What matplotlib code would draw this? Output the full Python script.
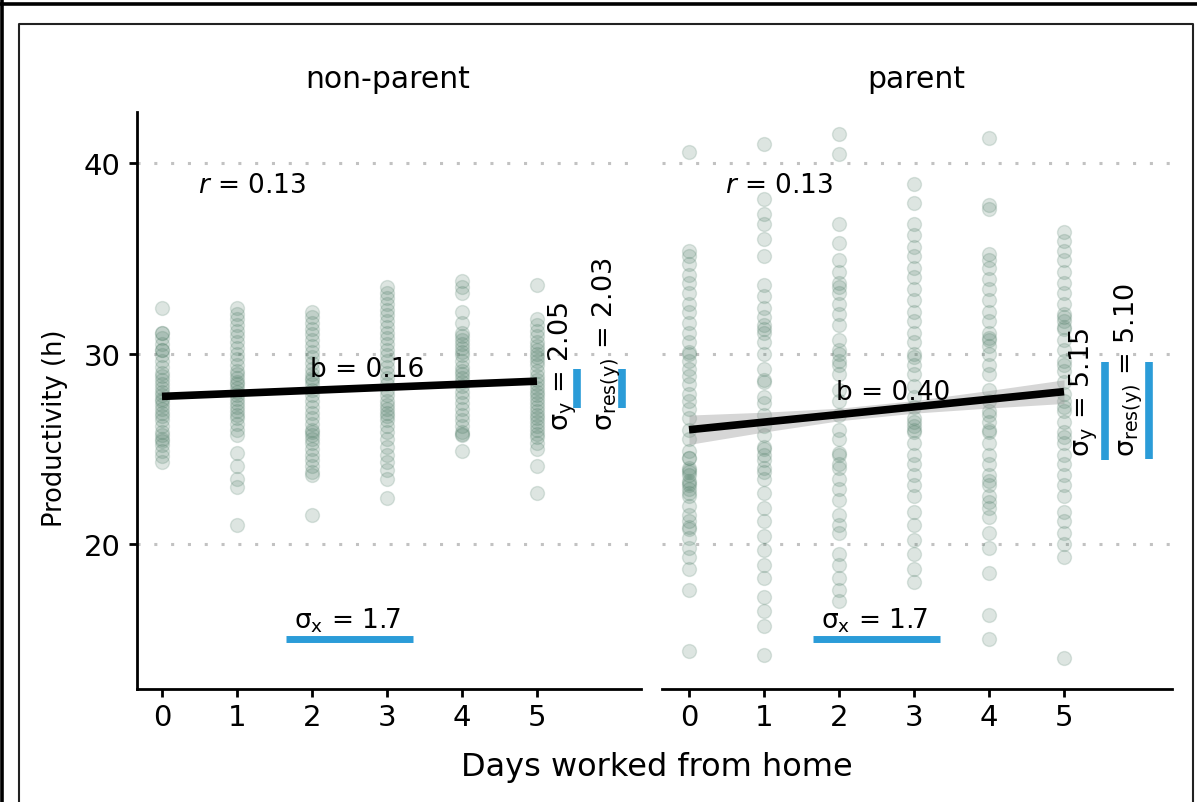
import numpy as np
import matplotlib
matplotlib.use("Agg")
import matplotlib.pyplot as plt
from matplotlib.lines import Line2D

plt.rcParams['font.family'] = ['DejaVu Sans']
plt.rcParams['mathtext.fontset'] = 'dejavusans'
plt.rcParams['mathtext.default'] = 'regular'

# ---------------- data ----------------
panels = ["non-parent", "parent"]
days = [0, 1, 2, 3, 4, 5]

nonparent_d0 = [32.4, 31.1, 31.1, 30.8, 30.5, 30.2, 30.2, 29.9, 29.6, 29.3, 29.0, 28.8, 28.6, 28.4,
                28.2, 28.0, 27.8, 27.6, 27.5, 27.3, 27.1, 26.9, 26.7, 26.5, 26.2, 25.9, 25.7, 25.5,
                25.4, 25.2, 24.9, 24.6, 24.3]
nonparent_d1 = [32.4, 32.1, 31.8, 31.5, 31.2, 30.9, 30.6, 30.3, 30.0, 29.7, 29.4, 29.1, 28.9, 28.7,
                28.5, 28.4, 28.2, 28.0, 27.8, 27.6, 27.4, 27.2, 27.0, 26.8, 26.6, 26.3, 26.0, 25.7,
                24.8, 24.1, 23.4, 23.0, 21.0]
nonparent_d2 = [32.2, 31.9, 31.6, 31.3, 31.0, 30.7, 30.4, 30.1, 29.8, 29.5, 29.2, 28.9, 28.7, 28.6,
                28.4, 28.1, 27.8, 27.5, 27.2, 26.9, 26.6, 26.3, 26.0, 25.9, 25.7, 25.5, 25.3, 25.0,
                24.7, 24.4, 24.1, 23.8, 23.6, 21.5]
nonparent_d3 = [33.5, 33.2, 32.9, 32.6, 32.3, 32.0, 31.7, 31.4, 31.1, 30.8, 30.5, 30.2, 29.9, 29.6,
                29.3, 29.0, 28.7, 28.4, 28.1, 27.8, 27.5, 27.3, 27.1, 26.9, 26.7, 26.5, 26.2, 25.9,
                25.5, 25.1, 24.7, 24.3, 23.9, 23.4, 22.4]
nonparent_d4 = [33.8, 33.5, 33.2, 32.2, 31.6, 31.1, 30.9, 30.7, 30.5, 30.3, 30.1, 29.9, 29.6, 29.3,
                29.1, 28.9, 28.7, 28.5, 28.3, 28.0, 27.7, 27.4, 27.1, 26.8, 26.5, 26.2, 25.9, 25.8,
                25.7, 24.9]
nonparent_d5 = [33.6, 31.8, 31.5, 31.2, 30.9, 30.6, 30.4, 30.2, 30.0, 29.8, 29.6, 29.4, 29.1, 28.8,
                28.6, 28.4, 28.2, 28.0, 27.8, 27.6, 27.4, 27.2, 27.0, 26.8, 26.6, 26.4, 26.2, 26.0,
                25.8, 25.6, 25.3, 25.0, 24.1, 22.7]

parent_d0 = [40.6, 35.4, 35.1, 34.7, 34.1, 33.7, 33.2, 32.6, 32.2, 31.6, 31.1, 30.6, 30.1, 30.0,
             29.6, 29.2, 28.8, 28.4, 27.9, 27.5, 27.1, 26.6, 26.0, 25.5, 24.9, 24.5, 24.5, 24.0,
             23.9, 23.8, 23.6, 23.3, 23.2, 23.1, 22.9, 22.7, 22.5, 22.0, 21.5, 21.2, 20.9, 20.8,
             20.3, 19.8, 19.3, 18.7, 17.6, 14.4]
parent_d1 = [41.0, 38.1, 37.3, 36.8, 36.0, 35.1, 33.6, 33.0, 32.4, 31.9, 31.5, 31.3, 31.1, 30.6,
             30.0, 29.2, 28.6, 28.5, 27.7, 27.4, 26.8, 26.2, 25.7, 25.1, 25.0, 24.7, 24.4, 24.0,
             23.8, 23.4, 22.7, 21.9, 21.2, 20.4, 19.7, 18.9, 18.2, 17.2, 16.5, 15.7, 14.2]
parent_d2 = [41.5, 40.5, 36.8, 35.8, 34.9, 34.3, 33.7, 33.5, 33.2, 32.6, 32.1, 31.5, 30.7, 30.2,
             30.0, 29.6, 29.4, 28.9, 28.1, 27.5, 26.8, 26.0, 25.5, 24.8, 24.7, 24.2, 24.0, 23.4,
             22.9, 22.3, 21.5, 21.0, 20.6, 19.5, 18.9, 18.2, 17.6, 17.0]
parent_d3 = [38.9, 37.9, 36.8, 36.2, 35.6, 35.1, 34.5, 34.0, 33.4, 32.8, 32.2, 31.7, 31.1, 30.6,
             30.0, 29.8, 29.4, 28.9, 28.3, 27.7, 27.2, 26.6, 26.4, 26.2, 26.0, 25.9, 25.3, 24.7,
             24.2, 23.6, 23.1, 22.5, 21.7, 21.0, 20.2, 19.5, 18.7, 18.0]
parent_d4 = [41.3, 37.8, 37.6, 35.2, 34.9, 34.5, 33.9, 33.4, 32.8, 32.2, 31.7, 31.1, 30.8, 30.7,
             30.4, 30.0, 29.4, 28.9, 28.1, 27.5, 27.0, 26.8, 26.4, 26.0, 25.9, 25.3, 24.7, 24.2,
             23.6, 23.3, 23.1, 22.5, 22.2, 21.9, 21.4, 20.6, 19.8, 18.5, 16.3, 15.0]
parent_d5 = [36.4, 35.9, 35.4, 34.9, 34.3, 33.7, 33.2, 32.6, 32.1, 31.9, 31.7, 31.4, 31.3, 30.7,
             30.2, 29.6, 29.4, 29.1, 28.5, 27.9, 27.5, 27.2, 27.0, 26.4, 25.9, 25.6, 25.3, 24.7,
             24.2, 23.6, 23.1, 22.5, 21.7, 21.2, 20.6, 20.0, 19.3, 14.0]

productivity = [
    [nonparent_d0, nonparent_d1, nonparent_d2, nonparent_d3, nonparent_d4, nonparent_d5],
    [parent_d0, parent_d1, parent_d2, parent_d3, parent_d4, parent_d5],
]

# fitted line (intercept, slope = annotated b)
fit_intercept = [27.75, 26.0]
fit_slope = [0.16, 0.40]
# half-width of the confidence band at days 0..5
band_halfwidth = [
    [0.15, 0.10, 0.07, 0.07, 0.10, 0.15],
    [0.77, 0.52, 0.33, 0.33, 0.46, 0.62],
]

r_values = ["0.13", "0.13"]
b_labels = ["0.16", "0.40"]
sigma_x = [1.7, 1.7]
sigma_y = [2.05, 5.15]
sigma_res = [2.03, 5.10]
sigma_x_labels = ["1.7", "1.7"]
sigma_y_labels = ["2.05", "5.15"]
sigma_res_labels = ["2.03", "5.10"]
mean_x = [2.5, 2.5]

y_ticks = [20, 30, 40]

# ---------------- styling ----------------
W, H = 1197, 803
point_color = "#4c7a64"
blue = "#2b9cd8"
grid_color = "#c2c2c2"

fig = plt.figure(figsize=(W / 100, H / 100), dpi=100)
axes_px = [(137, 641), (662, 1172)]
y_lo, y_hi = 12.39, 42.68
xlims = [(-0.333, 6.387), (-0.36, 6.44)]
ann_pos = [
    dict(b=(2.73, 29.2), sy_txt=(5.35, 26.0), sr_txt=(5.93, 26.0), sy_bar=5.53, sr_bar=6.13),
    dict(b=(2.72, 28.0), sy_txt=(5.27, 24.6), sr_txt=(5.87, 24.6), sy_bar=5.55, sr_bar=6.13),
]

for i, (x0, x1) in enumerate(axes_px):
    ax = fig.add_axes([x0 / W, (H - 690) / H, (x1 - x0) / W, (690 - 113) / H])
    ax.set_xlim(*xlims[i])
    ax.set_ylim(y_lo, y_hi)
    ax.patch.set_alpha(0)

    for yt in y_ticks:
        ax.axhline(yt, color=grid_color, lw=2.2, linestyle=(0, (1, 4.5)), zorder=0.5)

    for d, vals in zip(days, productivity[i]):
        ax.scatter([d] * len(vals), vals, s=100, facecolor=point_color, edgecolor=point_color,
                   linewidths=1.0, alpha=0.19, zorder=1)

    xs = np.array(days, dtype=float)
    fit = fit_intercept[i] + fit_slope[i] * xs
    hw = np.array(band_halfwidth[i])
    ax.fill_between(xs, fit - hw, fit + hw, color="#999999", alpha=0.4, lw=0, zorder=2)
    ax.plot(xs, fit, color="black", lw=5.5, solid_capstyle="butt", zorder=3)

    p = ann_pos[i]
    ax.text(1.2, 38.85, r"$\mathit{r}$ = " + r_values[i], fontsize=19, ha="center", va="center")
    ax.text(p["b"][0], p["b"][1], "b = " + b_labels[i], fontsize=19, ha="center", va="center", zorder=4)

    # sigma_x
    ax.plot([mean_x[i] - sigma_x[i] / 2, mean_x[i] + sigma_x[i] / 2], [15.0, 15.0],
            color=blue, lw=5, solid_capstyle="butt")
    ax.text(mean_x[i] - 0.03, 16.0, r"$\sigma_x$ = " + sigma_x_labels[i], fontsize=19,
            ha="center", va="center")

    ymean = fit_intercept[i] + fit_slope[i] * mean_x[i]
    ax.plot([p["sy_bar"]] * 2, [ymean - sigma_y[i] / 2, ymean + sigma_y[i] / 2],
            color=blue, lw=5.5, solid_capstyle="butt", clip_on=False)
    ax.plot([p["sr_bar"]] * 2, [ymean - sigma_res[i] / 2, ymean + sigma_res[i] / 2],
            color=blue, lw=5.5, solid_capstyle="butt", clip_on=False)
    ax.text(p["sy_txt"][0], p["sy_txt"][1], r"$\sigma_y$ = " + sigma_y_labels[i], fontsize=19.5,
            rotation=90, ha="center", va="bottom")
    ax.text(p["sr_txt"][0], p["sr_txt"][1], r"$\sigma_{res(y)}$ = " + sigma_res_labels[i],
            fontsize=19.5, rotation=90, ha="center", va="bottom")

    for s in ["top", "right"]:
        ax.spines[s].set_visible(False)
    ax.spines["bottom"].set_linewidth(2.0)
    ax.set_xticks(days)
    ax.set_xticklabels([str(d) for d in days])
    ax.tick_params(axis="x", length=6, width=2, labelsize=21, pad=4, direction="out")
    if i == 0:
        ax.spines["left"].set_linewidth(2.0)
        ax.set_yticks(y_ticks)
        ax.set_yticklabels([str(t) for t in y_ticks])
        ax.tick_params(axis="y", length=6, width=2, labelsize=21, pad=6, direction="out")
    else:
        ax.spines["left"].set_visible(False)
        ax.set_yticks([])

    fig.text(((x0 + x1) / 2 - 1) / W, (H - 80) / H, panels[i], fontsize=21.5, ha="center", va="center")

fig.text(657 / W, (H - 768) / H, "Days worked from home", fontsize=23, ha="center", va="center")
fig.text(55 / W, (H - 428) / H, "Productivity (h)", fontsize=18.5, rotation=90, ha="center", va="center")

# outer border (top and left) and inner frame
fig.add_artist(Line2D([0, 1], [(H - 5) / H] * 2, transform=fig.transFigure, color="black", lw=2.6))
fig.add_artist(Line2D([1.5 / W] * 2, [0, 1], transform=fig.transFigure, color="black", lw=2.6))
fig.add_artist(Line2D([19 / W, 19 / W, 1193 / W, 1193 / W], [0, (H - 25) / H, (H - 25) / H, 0],
                      transform=fig.transFigure, color="#222222", lw=1.5))

fig.savefig("out.png", dpi=100)
